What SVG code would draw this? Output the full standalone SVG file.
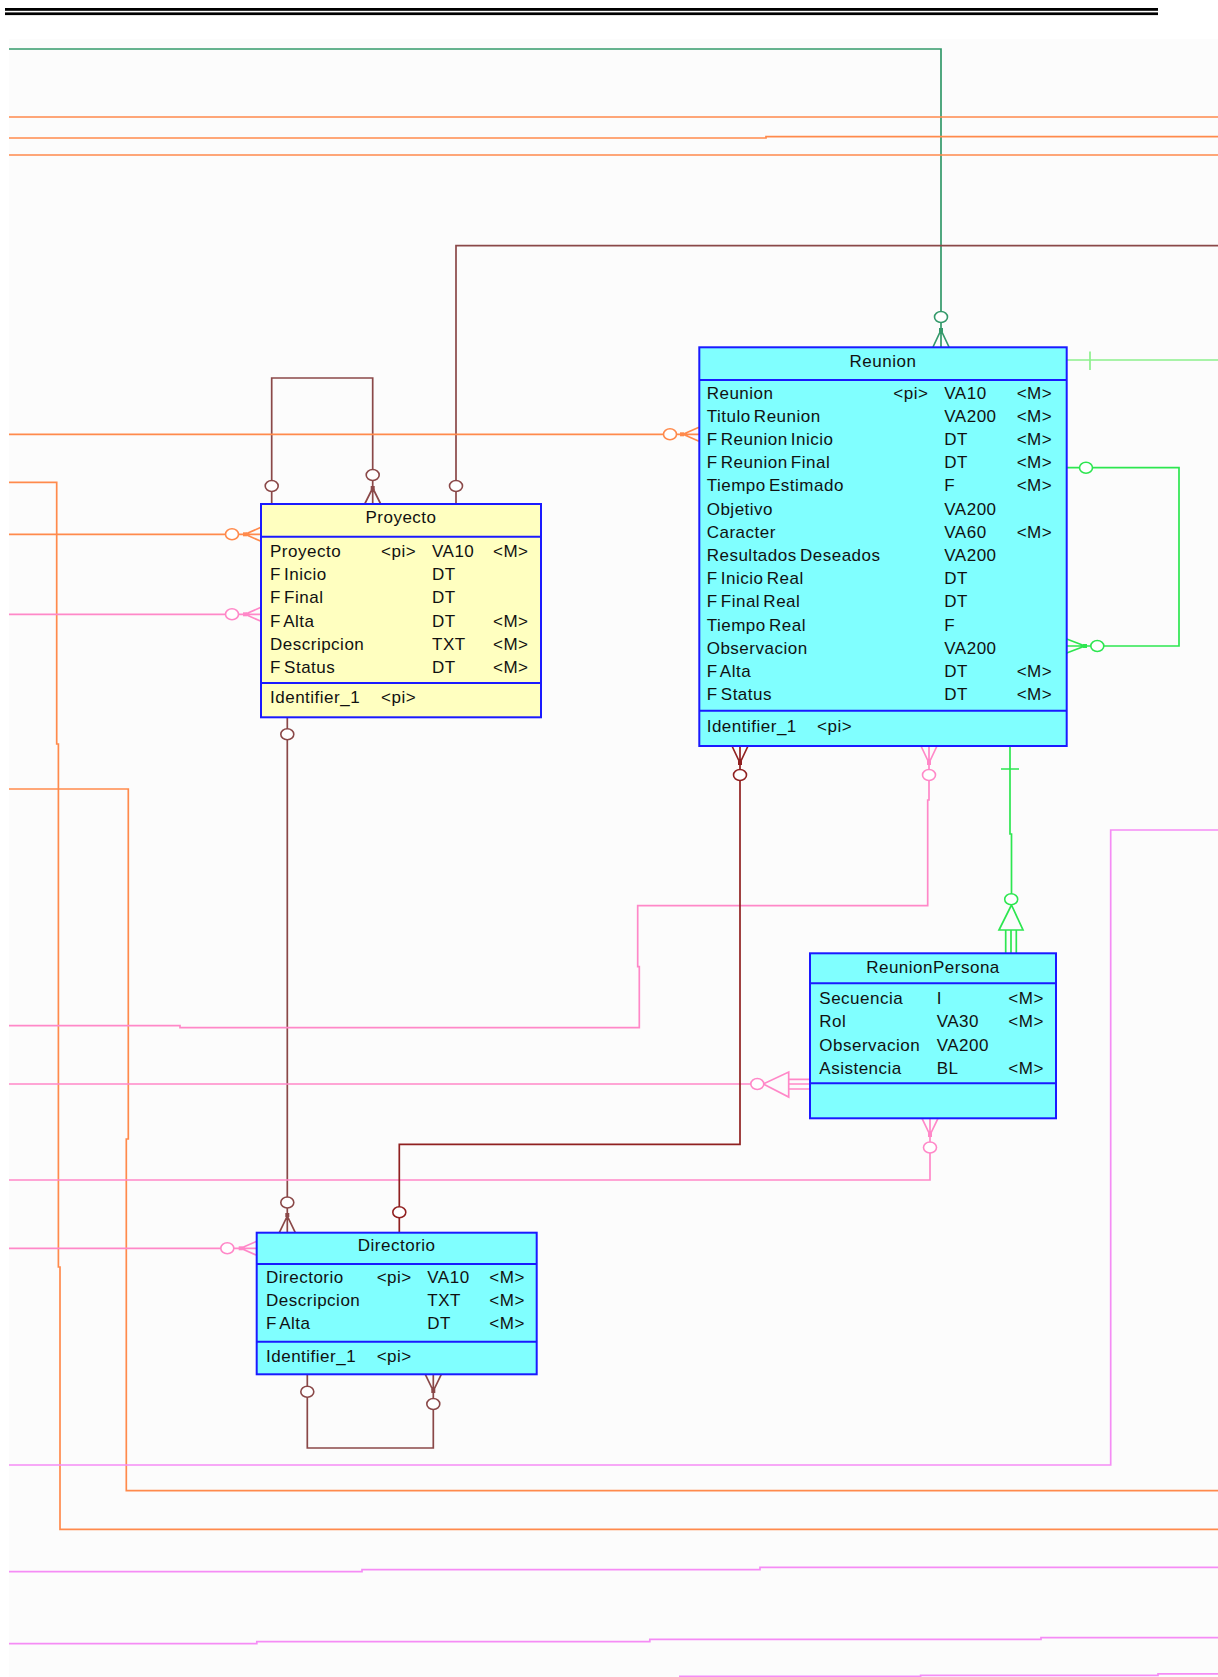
<svg xmlns="http://www.w3.org/2000/svg" width="1218" height="1677" viewBox="0 0 1218 1677">
<style>
.bg{fill:#fcfcfc}
.box{stroke:#1a1aff;stroke-width:2}
.yel{fill:#ffffc0}
.cy{fill:#80ffff}
.sep{stroke:#1a1aff;stroke-width:2}
.t{font-family:"Liberation Sans",Arial,sans-serif;font-size:17px;letter-spacing:.5px;word-spacing:-2px;fill:#111}
.ttl{text-anchor:middle}
.c{fill:none;stroke-width:1.7}
.o{stroke:#ff8a4c}
.p{stroke:#ff88c8}
.m{stroke:#f58cf5}
.br{stroke:#8a4848}
.dr{stroke:#902020}
.dg{stroke:#33996a}
.bg2{stroke:#2de650}
.lg{stroke:#8cf08c}
.ci{fill:#fff;stroke-width:1.6}
</style>
<rect x="0" y="0" width="1218" height="1677" fill="#ffffff"/>
<rect class="bg" x="9" y="39" width="1209" height="1638"/>
<rect x="5" y="8" width="1153" height="2.8" fill="#000"/>
<rect x="5" y="12.4" width="1153" height="2.7" fill="#000"/>

<g id="connectors">
  <!-- top lines -->
  <path class="c dg" d="M9,49 H941 V330 M941,330 L933,347 M941,330 L941,347 M941,330 L949,347"/>
  <rect x="939" y="328" width="4" height="4" fill="#33996a"/>
  <ellipse class="ci dg" cx="941" cy="317" rx="6.5" ry="5.5"/>
  <path class="c o" d="M9,117 H1218"/>
  <path class="c o" d="M9,138 H766 V136.7 H1218"/>
  <path class="c o" d="M9,155 H1218"/>

  <!-- brown to Proyecto top -->
  <path class="c br" d="M1218,245.7 H456 V504"/>
  <ellipse class="ci br" cx="456" cy="486" rx="6.5" ry="5.5"/>

  <!-- Proyecto self -->
  <path class="c br" d="M271.7,504 V378 H372.7 V488 M372.7,488 L364.7,504 M372.7,488 L372.7,504 M372.7,488 L380.7,504"/>
  <rect x="370.7" y="486" width="4" height="4" fill="#8a4848"/>
  <ellipse class="ci br" cx="372.7" cy="475" rx="6.5" ry="5.5"/>
  <ellipse class="ci br" cx="271.7" cy="486" rx="6.5" ry="5.5"/>

  <!-- orange to Reunion -->
  <path class="c o" d="M9,434.3 H683 M683,434.3 L699,427.3 M683,434.3 L699,434.3 M683,434.3 L699,441.3"/>
  <rect x="680" y="432.3" width="4" height="4" fill="#ff8a4c"/>
  <ellipse class="ci o" cx="670" cy="434.3" rx="6.5" ry="5.5"/>

  <!-- orange loops on left -->
  <path class="c o" d="M9,482.3 H56.7 V744 H58.4 V1267 H60 V1529.3 H1218"/>
  <path class="c o" d="M9,789 H128.3 V1139 H126.3 V1490.7 H1218"/>

  <!-- orange to Proyecto -->
  <path class="c o" d="M9,534.3 H245 M245,534.3 L261,527.3 M245,534.3 L261,534.3 M245,534.3 L261,541.3"/>
  <rect x="243" y="532.3" width="4" height="4" fill="#ff8a4c"/>
  <ellipse class="ci o" cx="232" cy="534.3" rx="6.5" ry="5.5"/>

  <!-- pink to Proyecto -->
  <path class="c p" d="M9,614.3 H245 M245,614.3 L261,607.3 M245,614.3 L261,614.3 M245,614.3 L261,621.3"/>
  <rect x="243" y="612.3" width="4" height="4" fill="#ff88c8"/>
  <ellipse class="ci p" cx="232" cy="614.3" rx="6.5" ry="5.5"/>

  <!-- Proyecto to Directorio -->
  <path class="c br" d="M287.3,717.3 V1216 M287.3,1216 L279.3,1232.7 M287.3,1216 L287.3,1232.7 M287.3,1216 L295.3,1232.7"/>
  <rect x="285.3" y="1213" width="4" height="4" fill="#8a4848"/>
  <ellipse class="ci br" cx="287.3" cy="734.3" rx="6.5" ry="5.5"/>
  <ellipse class="ci br" cx="287.3" cy="1202.5" rx="6.5" ry="5.5"/>

  <!-- pink to Reunion bottom -->
  <path class="c p" d="M9,1025.7 H180 V1027.7 H639.3 V966.7 H637.7 V905.7 H927.7 V800 H929 V763 M929,763 L921,746 M929,763 L929,746 M929,763 L937,746"/>
  <rect x="927" y="761" width="4" height="4" fill="#ff88c8"/>
  <ellipse class="ci p" cx="929" cy="775" rx="6.5" ry="5.5"/>

  <!-- pink to ReunionPersona left -->
  <path class="c p" d="M9,1084 H763.3 L788.7,1072 V1097 L763.3,1084 M788.7,1079.3 H810 M788.7,1084 H810 M788.7,1089 H810"/>
  <ellipse class="ci p" cx="757.3" cy="1084" rx="6.5" ry="5.5"/>

  <!-- pink to ReunionPersona bottom -->
  <path class="c p" d="M9,1180 H930 V1135 M930,1135 L922,1118.3 M930,1135 L930,1118.3 M930,1135 L938,1118.3"/>
  <rect x="928" y="1133" width="4" height="4" fill="#ff88c8"/>
  <ellipse class="ci p" cx="930" cy="1147.5" rx="6.5" ry="5.5"/>

  <!-- pink to Directorio -->
  <path class="c p" d="M9,1248.3 H240.7 M240.7,1248.3 L256.7,1241.3 M240.7,1248.3 L256.7,1248.3 M240.7,1248.3 L256.7,1255.3"/>
  <rect x="238.7" y="1246.3" width="4" height="4" fill="#ff88c8"/>
  <ellipse class="ci p" cx="227.3" cy="1248.3" rx="6.5" ry="5.5"/>

  <!-- dark red Reunion to Directorio -->
  <path class="c dr" d="M740,763 V1144.3 H399.3 V1232.7 M740,763 L732,746 M740,763 L740,746 M740,763 L748,746"/>
  <rect x="738" y="761" width="4" height="4" fill="#902020"/>
  <ellipse class="ci dr" cx="740" cy="775" rx="6.5" ry="5.5"/>
  <ellipse class="ci dr" cx="399.3" cy="1212.3" rx="6.5" ry="5.5"/>

  <!-- Directorio self -->
  <path class="c br" d="M307.3,1374.3 V1448 H433.3 V1391 M433.3,1391 L425.3,1374.3 M433.3,1391 L433.3,1374.3 M433.3,1391 L441.3,1374.3"/>
  <rect x="431.3" y="1389" width="4" height="4" fill="#8a4848"/>
  <ellipse class="ci br" cx="307.3" cy="1391.7" rx="6.5" ry="5.5"/>
  <ellipse class="ci br" cx="433.3" cy="1404" rx="6.5" ry="5.5"/>

  <!-- green light right -->
  <path class="c lg" d="M1066.7,360 H1218 M1090,351.5 V370"/>

  <!-- green self Reunion -->
  <path class="c bg2" d="M1066.7,467.7 H1179 V646 H1085 M1085,646 L1066.7,639 M1085,646 L1066.7,646 M1085,646 L1066.7,653"/>
  <rect x="1083" y="644" width="4" height="4" fill="#2de650"/>
  <ellipse class="ci bg2" cx="1086" cy="467.7" rx="6.5" ry="5.5"/>
  <ellipse class="ci bg2" cx="1097.3" cy="646" rx="6.5" ry="5.5"/>

  <!-- green Reunion to ReunionPersona -->
  <path class="c bg2" d="M1010,746 V834 H1011.5 V905 L999,930 H1023 L1011.5,905 M1005.7,930 V953.3 M1011,930 V953.3 M1016.3,930 V953.3 M1001,769 H1019"/>
  <ellipse class="ci bg2" cx="1011.2" cy="899.3" rx="6.5" ry="5.5"/>

  <!-- magenta lines -->
  <path class="c m" d="M1218,830 H1110.7 V1465 H9"/>
  <path class="c m" d="M9,1571.7 H362 V1569.7 H760 V1567.3 H1218"/>
  <path class="c m" d="M9,1643.7 H256.8 V1641.7 H649.8 V1639.3 H1041 V1637.7 H1218"/>
  <path class="c m" d="M679,1676.3 H920.6 V1675.3 H1158 V1673.9 H1218"/>
</g>

<g id="Proyecto">
  <rect class="box yel" x="261" y="504" width="280" height="213.3"/>
  <line class="sep" x1="261" y1="536.7" x2="541" y2="536.7"/>
  <line class="sep" x1="261" y1="683" x2="541" y2="683"/>
  <text class="t ttl" x="401" y="523">Proyecto</text>
  <text class="t" x="270" y="557">Proyecto</text><text class="t" x="381" y="557">&lt;pi&gt;</text><text class="t" x="432" y="557">VA10</text><text class="t" x="493" y="557">&lt;M&gt;</text>
  <text class="t" x="270" y="580.2">F Inicio</text><text class="t" x="432" y="580.2">DT</text>
  <text class="t" x="270" y="603.4">F Final</text><text class="t" x="432" y="603.4">DT</text>
  <text class="t" x="270" y="626.6">F Alta</text><text class="t" x="432" y="626.6">DT</text><text class="t" x="493" y="626.6">&lt;M&gt;</text>
  <text class="t" x="270" y="649.8">Descripcion</text><text class="t" x="432" y="649.8">TXT</text><text class="t" x="493" y="649.8">&lt;M&gt;</text>
  <text class="t" x="270" y="673">F Status</text><text class="t" x="432" y="673">DT</text><text class="t" x="493" y="673">&lt;M&gt;</text>
  <text class="t" x="270" y="703">Identifier_1</text><text class="t" x="381" y="703">&lt;pi&gt;</text>
</g>

<g id="Reunion">
  <rect class="box cy" x="699.3" y="347.3" width="367.4" height="398.7"/>
  <line class="sep" x1="699.3" y1="380" x2="1066.7" y2="380"/>
  <line class="sep" x1="699.3" y1="710.7" x2="1066.7" y2="710.7"/>
  <text class="t ttl" x="883" y="366.7">Reunion</text>
  <text class="t" x="706.7" y="398.5">Reunion</text><text class="t" x="893.3" y="398.5">&lt;pi&gt;</text><text class="t" x="944.3" y="398.5">VA10</text><text class="t" x="1016.7" y="398.5">&lt;M&gt;</text>
  <text class="t" x="706.7" y="421.7">Titulo Reunion</text><text class="t" x="944.3" y="421.7">VA200</text><text class="t" x="1016.7" y="421.7">&lt;M&gt;</text>
  <text class="t" x="706.7" y="444.9">F Reunion Inicio</text><text class="t" x="944.3" y="444.9">DT</text><text class="t" x="1016.7" y="444.9">&lt;M&gt;</text>
  <text class="t" x="706.7" y="468.1">F Reunion Final</text><text class="t" x="944.3" y="468.1">DT</text><text class="t" x="1016.7" y="468.1">&lt;M&gt;</text>
  <text class="t" x="706.7" y="491.3">Tiempo Estimado</text><text class="t" x="944.3" y="491.3">F</text><text class="t" x="1016.7" y="491.3">&lt;M&gt;</text>
  <text class="t" x="706.7" y="514.5">Objetivo</text><text class="t" x="944.3" y="514.5">VA200</text>
  <text class="t" x="706.7" y="537.7">Caracter</text><text class="t" x="944.3" y="537.7">VA60</text><text class="t" x="1016.7" y="537.7">&lt;M&gt;</text>
  <text class="t" x="706.7" y="560.9">Resultados Deseados</text><text class="t" x="944.3" y="560.9">VA200</text>
  <text class="t" x="706.7" y="584.1">F Inicio Real</text><text class="t" x="944.3" y="584.1">DT</text>
  <text class="t" x="706.7" y="607.3">F Final Real</text><text class="t" x="944.3" y="607.3">DT</text>
  <text class="t" x="706.7" y="630.5">Tiempo Real</text><text class="t" x="944.3" y="630.5">F</text>
  <text class="t" x="706.7" y="653.7">Observacion</text><text class="t" x="944.3" y="653.7">VA200</text>
  <text class="t" x="706.7" y="676.9">F Alta</text><text class="t" x="944.3" y="676.9">DT</text><text class="t" x="1016.7" y="676.9">&lt;M&gt;</text>
  <text class="t" x="706.7" y="700.1">F Status</text><text class="t" x="944.3" y="700.1">DT</text><text class="t" x="1016.7" y="700.1">&lt;M&gt;</text>
  <text class="t" x="706.7" y="731.7">Identifier_1</text><text class="t" x="817" y="731.7">&lt;pi&gt;</text>
</g>

<g id="ReunionPersona">
  <rect class="box cy" x="810" y="953.3" width="246" height="165"/>
  <line class="sep" x1="810" y1="983.3" x2="1056" y2="983.3"/>
  <line class="sep" x1="810" y1="1083.3" x2="1056" y2="1083.3"/>
  <text class="t ttl" x="933" y="972.7">ReunionPersona</text>
  <text class="t" x="819.3" y="1004">Secuencia</text><text class="t" x="936.7" y="1004">I</text><text class="t" x="1008.3" y="1004">&lt;M&gt;</text>
  <text class="t" x="819.3" y="1027.4">Rol</text><text class="t" x="936.7" y="1027.4">VA30</text><text class="t" x="1008.3" y="1027.4">&lt;M&gt;</text>
  <text class="t" x="819.3" y="1050.8">Observacion</text><text class="t" x="936.7" y="1050.8">VA200</text>
  <text class="t" x="819.3" y="1074.2">Asistencia</text><text class="t" x="936.7" y="1074.2">BL</text><text class="t" x="1008.3" y="1074.2">&lt;M&gt;</text>
</g>

<g id="Directorio">
  <rect class="box cy" x="256.7" y="1232.7" width="280" height="141.6"/>
  <line class="sep" x1="256.7" y1="1264" x2="536.7" y2="1264"/>
  <line class="sep" x1="256.7" y1="1341.7" x2="536.7" y2="1341.7"/>
  <text class="t ttl" x="396.7" y="1250.7">Directorio</text>
  <text class="t" x="266" y="1282.7">Directorio</text><text class="t" x="376.7" y="1282.7">&lt;pi&gt;</text><text class="t" x="427.3" y="1282.7">VA10</text><text class="t" x="489.3" y="1282.7">&lt;M&gt;</text>
  <text class="t" x="266" y="1306">Descripcion</text><text class="t" x="427.3" y="1306">TXT</text><text class="t" x="489.3" y="1306">&lt;M&gt;</text>
  <text class="t" x="266" y="1329.2">F Alta</text><text class="t" x="427.3" y="1329.2">DT</text><text class="t" x="489.3" y="1329.2">&lt;M&gt;</text>
  <text class="t" x="266" y="1361.7">Identifier_1</text><text class="t" x="376.7" y="1361.7">&lt;pi&gt;</text>
</g>
</svg>
